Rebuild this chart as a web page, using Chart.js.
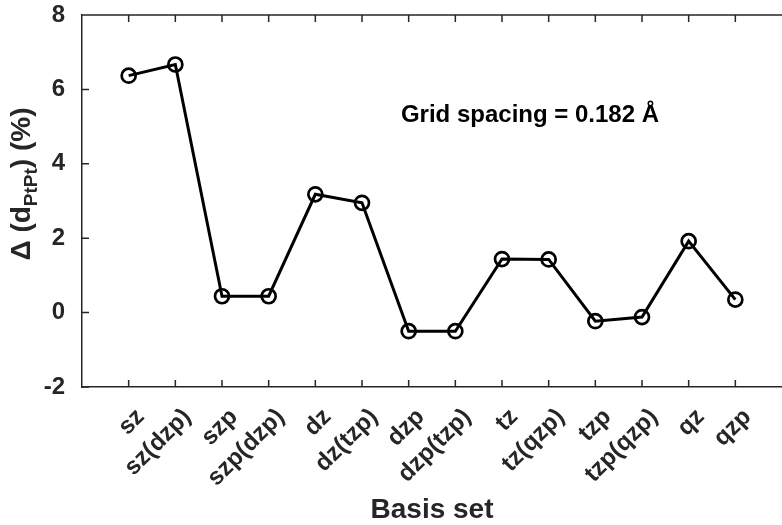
<!DOCTYPE html>
<html>
<head>
<meta charset="utf-8">
<script src="https://cdn.jsdelivr.net/npm/chart.js@4.4.0/dist/chart.umd.min.js"></script>
<style>
html, body { margin: 0; padding: 0; background: #fff; overflow: hidden; }
#wrap { width: 782px; height: 525px; }
</style>
</head>
<body>
<div id="wrap"><canvas id="myChart"></canvas></div>
<script>
// Data
const basisSets = ['sz', 'sz(dzp)', 'szp', 'szp(dzp)', 'dz', 'dz(tzp)', 'dzp', 'dzp(tzp)',
                   'tz', 'tz(qzp)', 'tzp', 'tzp(qzp)', 'qz', 'qzp'];
const deltaPtPt = [6.37, 6.67, 0.44, 0.44, 3.18, 2.95, -0.50, -0.50, 1.44, 1.43, -0.23, -0.12, 1.92, 0.35];
const yTicks = [-2, 0, 2, 4, 6, 8];
const noteText = 'Grid spacing = 0.182 Å';
const notePos = { x: 9.6, y: 5.3 };

const FONT = '"Liberation Sans", Arial, sans-serif';
const AXIS = '#262626';

const points = deltaPtPt.map((v, i) => ({ x: i + 1, y: v }));

// MATLAB style inward ticks, top line, y title with subscript, text note
const axisDecor = {
    id: 'axisDecor',
    afterDraw(chart) {
        const { ctx, chartArea: a, scales: { x, y } } = chart;
        ctx.save();
        ctx.strokeStyle = AXIS;
        ctx.lineWidth = 1.5;
        ctx.beginPath();
        ctx.moveTo(a.left, a.top);
        ctx.lineTo(a.right, a.top);
        basisSets.forEach((_, i) => {
            const px = x.getPixelForValue(i + 1);
            ctx.moveTo(px, a.bottom); ctx.lineTo(px, a.bottom - 7);
            ctx.moveTo(px, a.top); ctx.lineTo(px, a.top + 7);
        });
        yTicks.forEach(v => {
            const py = y.getPixelForValue(v);
            ctx.moveTo(a.left, py); ctx.lineTo(a.left + 7, py);
        });
        ctx.stroke();

        // y axis title: Δ (d_PtPt) (%)
        const parts = [
            ['Δ (d', 'bold 28px ' + FONT, 0],
            ['PtPt', 'bold 19px ' + FONT, 10],
            [') (%)', 'bold 28px ' + FONT, 0]
        ];
        let total = 0;
        parts.forEach(p => { ctx.font = p[1]; total += ctx.measureText(p[0]).width; });
        ctx.translate(22, 184);
        ctx.rotate(-Math.PI / 2);
        ctx.fillStyle = AXIS;
        ctx.textBaseline = 'middle';
        ctx.textAlign = 'left';
        let cx = -total / 2;
        parts.forEach(p => {
            ctx.font = p[1];
            ctx.fillText(p[0], cx, p[2]);
            cx += ctx.measureText(p[0]).width;
        });
        ctx.restore();

        ctx.save();
        ctx.font = 'bold 24px ' + FONT;
        ctx.fillStyle = '#000';
        ctx.textAlign = 'center';
        ctx.textBaseline = 'middle';
        ctx.fillText(noteText, x.getPixelForValue(notePos.x), y.getPixelForValue(notePos.y));
        ctx.restore();
    }
};

const ctx = document.getElementById('myChart');
const myChart = new Chart(ctx, {
    type: 'line',
    data: {
        datasets: [{
            data: points,
            borderColor: '#000',
            borderWidth: 3,
            backgroundColor: 'transparent',
            pointRadius: 7,
            pointBorderWidth: 2.7,
            pointBackgroundColor: 'transparent',
            pointBorderColor: '#000',
            tension: 0,
            clip: false
        }]
    },
    options: {
        responsive: true,
        maintainAspectRatio: false,
        animation: false,
        layout: { autoPadding: false, padding: { top: 15, right: 0, left: 0, bottom: 0 } },
        plugins: {
            legend: { display: false },
            tooltip: { enabled: false }
        },
        scales: {
            x: {
                type: 'linear',
                min: 0,
                max: 15,
                afterFit(scale) {
                    scale.height = 138;
                    scale.paddingLeft = 0;
                    scale.paddingRight = 0;
                },
                afterBuildTicks(scale) {
                    scale.ticks = basisSets.map((_, i) => ({ value: i + 1 }));
                },
                grid: { display: false },
                border: { display: true, color: AXIS, width: 1.5 },
                ticks: {
                    autoSkip: false,
                    maxRotation: 45,
                    minRotation: 45,
                    padding: 8,
                    labelOffset: 12,
                    color: AXIS,
                    font: { family: FONT, size: 24, weight: 'bold' },
                    callback: v => basisSets[v - 1] || ''
                },
                title: {
                    display: true,
                    text: 'Basis set',
                    color: AXIS,
                    font: { family: FONT, size: 28, weight: 'bold' },
                    padding: { top: 0, bottom: -2 }
                }
            },
            y: {
                min: -2,
                max: 8,
                afterFit(scale) {
                    scale.width = 82;
                    scale.paddingTop = 0;
                    scale.paddingBottom = 0;
                },
                afterBuildTicks(scale) {
                    scale.ticks = yTicks.map(v => ({ value: v }));
                },
                grid: { display: false },
                border: { display: true, color: AXIS, width: 1.5 },
                ticks: {
                    padding: 9,
                    color: AXIS,
                    font: { family: FONT, size: 24, weight: 'bold' }
                }
            }
        }
    },
    plugins: [axisDecor]
});
</script>
</body>
</html>
